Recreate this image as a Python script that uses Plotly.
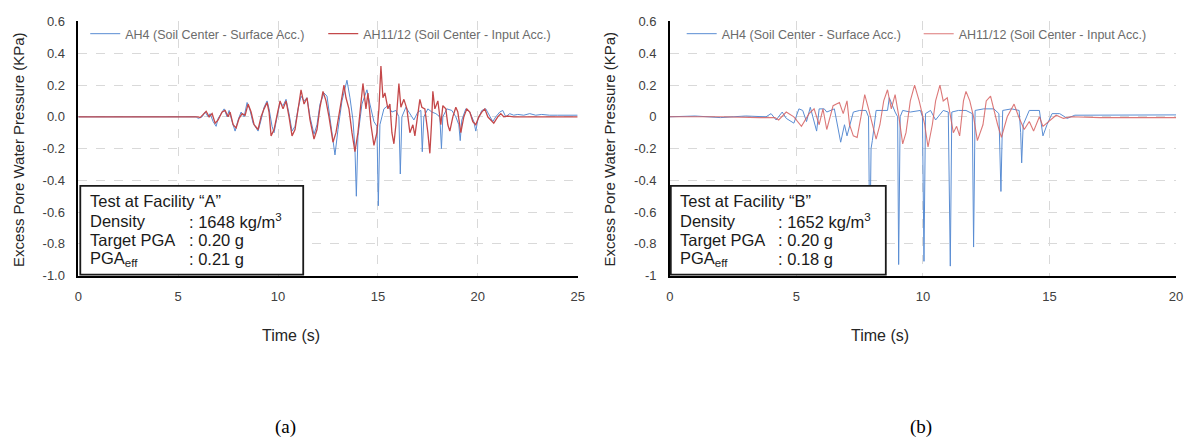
import plotly.graph_objects as go

# ---------------- data ----------------
# Panel (a) – Facility "A"
a_blue_t = [0, 5.9, 6.0, 6.2, 6.35, 6.5, 6.6, 6.75, 6.9, 7.0, 7.15, 7.3, 7.45, 7.55, 7.7, 7.85, 8.0, 8.15, 8.3, 8.45,
            8.6, 8.75, 8.9, 9.0, 9.15, 9.3, 9.45, 9.55, 9.7, 9.8, 9.95, 10.1, 10.25, 10.4, 10.55, 10.7, 10.85, 11.0,
            11.15, 11.3, 11.45, 11.6, 11.8, 11.95, 12.1, 12.3, 12.45, 12.6, 12.75, 12.85, 13.0, 13.2, 13.45, 13.6,
            13.75, 13.85, 13.92, 14.0, 14.2, 14.45, 14.6, 14.8, 14.95, 15.02, 15.1, 15.3, 15.5, 15.7, 15.9, 16.05,
            16.12, 16.2, 16.4, 16.6, 16.8, 17.0, 17.15, 17.22, 17.3, 17.5, 17.7, 17.9, 18.1, 18.18, 18.25, 18.45,
            18.7, 18.9, 19.05, 19.12, 19.2, 19.4, 19.6, 19.8, 19.9, 20.0, 20.2, 20.4, 20.6, 20.75, 20.9, 21.1, 21.25,
            21.4, 21.6, 21.8, 22.0, 22.3, 22.6, 22.9, 23.2, 23.6, 24.0, 24.5, 25.0]
a_blue_v = [0, 0, -0.01, 0.0, 0.03, 0.0, 0.02, -0.03, -0.06, -0.01, 0.02, 0.05, 0.0, 0.04, -0.03, -0.09, -0.02, 0.03,
            0.0, 0.09, 0.04, -0.04, -0.07, -0.09, -0.02, 0.06, 0.1, 0.05, -0.06, -0.1, 0.0, 0.09, 0.07, 0.11, 0.02,
            -0.09, -0.06, 0.05, 0.13, 0.1, 0.12, 0.0, -0.11, -0.05, 0.08, 0.15, 0.13, 0.0, -0.15, -0.24, -0.08, 0.1,
            0.23, 0.12, -0.02, -0.2, -0.5, -0.12, 0.08, 0.17, 0.08, -0.03, -0.06, -0.56, -0.05, 0.05, 0.07, 0.03,
            0.04, 0.0, -0.36, 0.0, 0.06, 0.02, -0.02, 0.03, 0.04, -0.22, 0.0, 0.05, 0.03, 0.02, 0.0, -0.2, 0.0, 0.05,
            0.04, 0.0, -0.05, -0.15, -0.02, 0.05, 0.03, -0.03, -0.09, -0.02, 0.04, 0.05, 0.0, -0.03, 0.0, 0.03, 0.04,
            0.0, 0.02, 0.01, 0.015, 0.01, 0.02, 0.01, 0.015, 0.01, 0.01, 0.008, 0.01]
a_red_t = [0, 6.0, 6.1, 6.3, 6.4, 6.55, 6.7, 6.85, 7.0, 7.2, 7.35, 7.5, 7.6, 7.75, 7.9, 8.05, 8.2, 8.35, 8.5, 8.65,
           8.8, 9.0, 9.15, 9.3, 9.45, 9.55, 9.65, 9.8, 9.95, 10.1, 10.25, 10.4, 10.55, 10.7, 10.85, 11.0, 11.15,
           11.3, 11.45, 11.6, 11.8, 11.95, 12.1, 12.25, 12.4, 12.55, 12.75, 12.9, 13.1, 13.3, 13.4, 13.55, 13.7,
           13.85, 14.0, 14.15, 14.25, 14.4, 14.5, 14.65, 14.8, 14.95, 15.05, 15.15, 15.25, 15.35, 15.5, 15.6, 15.7,
           15.8, 15.9, 16.05, 16.15, 16.3, 16.45, 16.6, 16.75, 16.85, 16.95, 17.1, 17.2, 17.35, 17.5, 17.6, 17.68,
           17.75, 17.85, 18.0, 18.15, 18.25, 18.4, 18.5, 18.6, 18.75, 18.9, 19.0, 19.15, 19.3, 19.45, 19.6, 19.75,
           19.9, 20.05, 20.2, 20.35, 20.5, 20.65, 20.8, 21.0, 21.15, 21.3, 21.5, 21.8, 22.5, 25.0]
a_red_v = [0, 0, -0.005, 0.02, 0.035, 0.0, 0.02, -0.04, -0.02, 0.03, 0.04, 0.0, 0.03, -0.05, -0.07, -0.01, 0.02,
           0.01, 0.08, 0.03, -0.05, -0.08, 0.0, 0.05, 0.09, 0.03, -0.12, -0.08, 0.02, 0.1, 0.05, 0.1, 0.0, -0.12,
           -0.08, 0.06, 0.17, 0.08, 0.12, -0.02, -0.14, -0.08, 0.06, 0.16, 0.1, 0.0, -0.16, -0.1, 0.05, 0.2, 0.12,
           0.05, -0.1, -0.22, -0.1, 0.1, 0.21, 0.05, 0.15, -0.05, -0.18, -0.1, 0.05, 0.32, 0.12, 0.15, 0.05, 0.08,
           -0.1, -0.17, -0.05, 0.21, 0.06, 0.11, 0.05, -0.1, -0.05, -0.12, -0.04, 0.11, 0.06, 0.05, -0.1, -0.23,
           -0.05, 0.16, 0.05, 0.1, -0.05, 0.07, 0.05, -0.05, -0.09, 0.0, 0.06, 0.03, -0.1, 0.0, 0.05, 0.03, -0.03,
           -0.05, 0.0, 0.03, 0.05, 0.0, -0.02, -0.04, 0.0, 0.02, 0.0, 0.005, 0.0, 0.0, 0.0]

# Panel (b) – Facility "B"
b_blue_t = [0, 1.0, 2.0, 3.0, 3.8, 4.0, 4.2, 4.44, 4.6, 4.9, 5.1, 5.25, 5.4, 5.55, 5.8, 5.9, 6.1, 6.2, 6.5, 6.75,
            6.9, 7.0, 7.25, 7.5, 7.75, 7.85, 7.9, 7.95, 8.0, 8.15, 8.6, 8.67, 8.9, 9.0, 9.04, 9.1, 9.2, 9.5, 9.9,
            9.98, 10.04, 10.1, 10.3, 10.5, 10.8, 11.0, 11.08, 11.14, 11.4, 11.7, 11.95, 12.0, 12.06, 12.4, 12.8,
            13.0, 13.08, 13.15, 13.5, 13.8, 13.86, 13.9, 13.96, 14.2, 14.6, 14.74, 14.9, 15.1, 15.4, 15.7, 16.0,
            17.0, 18.0, 19.0, 20.0]
b_blue_v = [0.0, 0.005, -0.005, 0.005, 0.0, 0.02, -0.02, 0.03, -0.01, -0.04, 0.05, 0.04, -0.03, 0.06, -0.09, 0.05,
            0.05, 0.03, 0.05, -0.16, -0.05, -0.12, 0.03, 0.04, 0.04, 0.0, -0.85, -0.2, -0.15, 0.04, 0.04, 0.12,
            0.03, 0.0, -0.93, 0.0, 0.04, 0.03, 0.04, 0.0, -0.91, 0.02, 0.04, -0.02, 0.04, 0.03, -0.94, 0.03, 0.04,
            0.04, 0.02, -0.82, 0.04, 0.05, 0.05, 0.02, -0.47, 0.04, 0.05, 0.04, -0.1, -0.29, -0.05, 0.04, 0.04,
            -0.12, -0.05, 0.02, 0.02, -0.01, 0.01, 0.01, 0.012, 0.01, 0.012]
b_red_t = [0, 2.0, 3.55, 4.15, 4.3, 4.6, 4.9, 5.2, 5.5, 5.7, 5.9, 6.05, 6.2, 6.45, 6.7, 6.85, 7.0, 7.1, 7.25, 7.4,
           7.55, 7.7, 7.85, 8.15, 8.3, 8.45, 8.6, 8.75, 8.9, 9.05, 9.2, 9.33, 9.5, 9.67, 9.85, 10.07, 10.2, 10.37,
           10.5, 10.67, 10.8, 10.96, 11.2, 11.33, 11.45, 11.6, 11.7, 11.85, 12.0, 12.15, 12.37, 12.5, 12.67, 12.8,
           12.95, 13.1, 13.33, 13.6, 13.78, 14.0, 14.2, 14.37, 14.6, 14.74, 14.96, 15.26, 15.55, 15.85, 17.0, 20.0]
b_red_v = [0.0, 0.0, -0.005, -0.005, -0.02, 0.03, 0.0, -0.06, 0.02, 0.05, -0.05, 0.05, -0.08, 0.07, 0.09, 0.02,
           0.1, -0.05, -0.12, -0.13, 0.0, 0.14, 0.05, -0.14, -0.05, 0.1, 0.17, 0.05, 0.14, 0.0, -0.17, -0.1, 0.1,
           0.2, 0.1, -0.05, -0.19, -0.05, 0.1, 0.2, 0.1, 0.12, -0.1, -0.06, -0.12, 0.1, 0.16, 0.1, 0.0, -0.15,
           -0.05, 0.1, 0.13, 0.04, -0.05, -0.13, 0.0, 0.08, 0.0, -0.08, -0.03, -0.09, 0.0, -0.06, -0.03, 0.01,
           -0.01, 0.0, -0.005, -0.005]

series_names = ["AH4 (Soil Center - Surface Acc.)", "AH11/12 (Soil Center - Input Acc.)"]
y_tick_vals = [0.6, 0.4, 0.2, 0.0, -0.2, -0.4, -0.6, -0.8, -1.0]
a_y_tick_text = ["0.6", "0.4", "0.2", "0.0", "-0.2", "-0.4", "-0.6", "-0.8", "-1.0"]
b_y_tick_text = ["0.6", "0.4", "0.2", "0", "-0.2", "-0.4", "-0.6", "-0.8", "-1"]
a_box_labels = ["Density", "Target PGA", "PGA<sub>eff</sub>"]
a_box_values = [": 1648 kg/m<sup>3</sup>", ": 0.20 g", ": 0.21 g"]
b_box_values = [": 1652 kg/m<sup>3</sup>", ": 0.20 g", ": 0.18 g"]

# ---------------- figure ----------------
W, H = 1194, 446
def px(x): return x / W
def py(y): return 1 - y / H

BLUE = "#5a8dd3"
RED_A = "#c4484a"
RED_B = "rgba(214,96,96,0.85)"
FONT = "Liberation Sans, Arial, sans-serif"

fig = go.Figure()
fig.add_trace(go.Scatter(x=a_blue_t, y=a_blue_v, mode="lines", name=series_names[0],
                         line=dict(color=BLUE, width=1), xaxis="x", yaxis="y", legend="legend"))
fig.add_trace(go.Scatter(x=a_red_t, y=a_red_v, mode="lines", name=series_names[1],
                         line=dict(color=RED_A, width=1.3), xaxis="x", yaxis="y", legend="legend"))
fig.add_trace(go.Scatter(x=b_blue_t, y=b_blue_v, mode="lines", name=series_names[0],
                         line=dict(color=BLUE, width=1), xaxis="x2", yaxis="y2", legend="legend2"))
fig.add_trace(go.Scatter(x=b_red_t, y=b_red_v, mode="lines", name=series_names[1],
                         line=dict(color=RED_B, width=1.1), xaxis="x2", yaxis="y2", legend="legend2"))

grid = dict(showgrid=True, gridcolor="#d9d9d9", griddash="dash", gridwidth=1, zeroline=False,
            showline=True, linecolor="#000000", linewidth=1.5, ticks="",
            tickfont=dict(family=FONT, size=13, color="#404040"))

ydom = [py(278), py(15)]
fig.update_layout(
    width=W, height=H, margin=dict(l=0, r=0, t=0, b=0),
    paper_bgcolor="white", plot_bgcolor="white",
    font=dict(family=FONT),
    xaxis=dict(domain=[px(75), px(579)], range=[0, 25], dtick=5, anchor="y", ticklabelstandoff=8, **grid),
    yaxis=dict(domain=ydom, range=[-1.0, 0.6], tickvals=y_tick_vals, ticktext=a_y_tick_text, anchor="x",
               ticklabelstandoff=9, **grid),
    xaxis2=dict(domain=[px(672), px(1183)], range=[0, 20], dtick=5, anchor="y2", ticklabelstandoff=8, **grid),
    yaxis2=dict(domain=ydom, range=[-1.0, 0.6], tickvals=y_tick_vals, ticktext=b_y_tick_text, anchor="x2",
                ticklabelstandoff=9, **grid),
    legend=dict(orientation="h", x=px(82), y=py(28), xanchor="left", yanchor="middle",
                bgcolor="rgba(0,0,0,0)", font=dict(family=FONT, size=12.5, color="#6b6b6b"),
                entrywidth=193, entrywidthmode="pixels"),
    legend2=dict(orientation="h", x=px(684), y=py(28), xanchor="left", yanchor="middle",
                 bgcolor="rgba(0,0,0,0)", font=dict(family=FONT, size=12.5, color="#6b6b6b"),
                 entrywidth=192, entrywidthmode="pixels"),
)

shapes = []
annotations = []
for (x0, x1, letter, values, tx, cx) in [(77, 302, "A", a_box_values, 85, 185),
                                          (673, 890, "B", b_box_values, 680, 779)]:
    shapes.append(dict(type="rect", xref="paper", yref="paper", x0=px(x0), x1=px(x1), y0=py(277), y1=py(185),
                       line=dict(color="#1a1a1a", width=1.8), fillcolor="white", layer="above"))
    annotations.append(dict(text="Test at Facility \u201c" + letter + "\u201d", xref="paper", yref="paper",
                            x=px(tx), y=py(201), xanchor="left", yanchor="middle", showarrow=False,
                            font=dict(family=FONT, size=16.5, color="#1a1a1a")))
    for i, (lab, val) in enumerate(zip(a_box_labels, values)):
        yy = 221 + 20 * i
        annotations.append(dict(text=lab, xref="paper", yref="paper", x=px(tx), y=py(yy), xanchor="left",
                                yanchor="middle", showarrow=False, font=dict(family=FONT, size=16.5, color="#1a1a1a")))
        annotations.append(dict(text=val, xref="paper", yref="paper", x=px(cx), y=py(yy), xanchor="left",
                                yanchor="middle", showarrow=False, font=dict(family=FONT, size=16.5, color="#1a1a1a")))

for cx in [14, 611]:
    annotations.append(dict(text="Excess Pore Water Pressure (KPa)", xref="paper", yref="paper", x=px(cx),
                            y=py(147), xanchor="center", yanchor="middle", textangle=-90, showarrow=False,
                            font=dict(family=FONT, size=15, color="#262626")))
for cx, lab in [(284, "(a)"), (926, "(b)")]:
    annotations.append(dict(text=lab, xref="paper", yref="paper", x=px(cx), y=py(435), xanchor="center",
                            yanchor="middle", showarrow=False,
                            font=dict(family="Liberation Serif, Times New Roman, serif", size=19, color="#000")))
for cx in [290, 884]:
    annotations.append(dict(text="Time (s)", xref="paper", yref="paper", x=px(cx), y=py(340), xanchor="center",
                            yanchor="middle", showarrow=False, font=dict(family=FONT, size=16, color="#262626")))

fig.update_layout(shapes=shapes, annotations=annotations)
fig.write_html("out.html")
